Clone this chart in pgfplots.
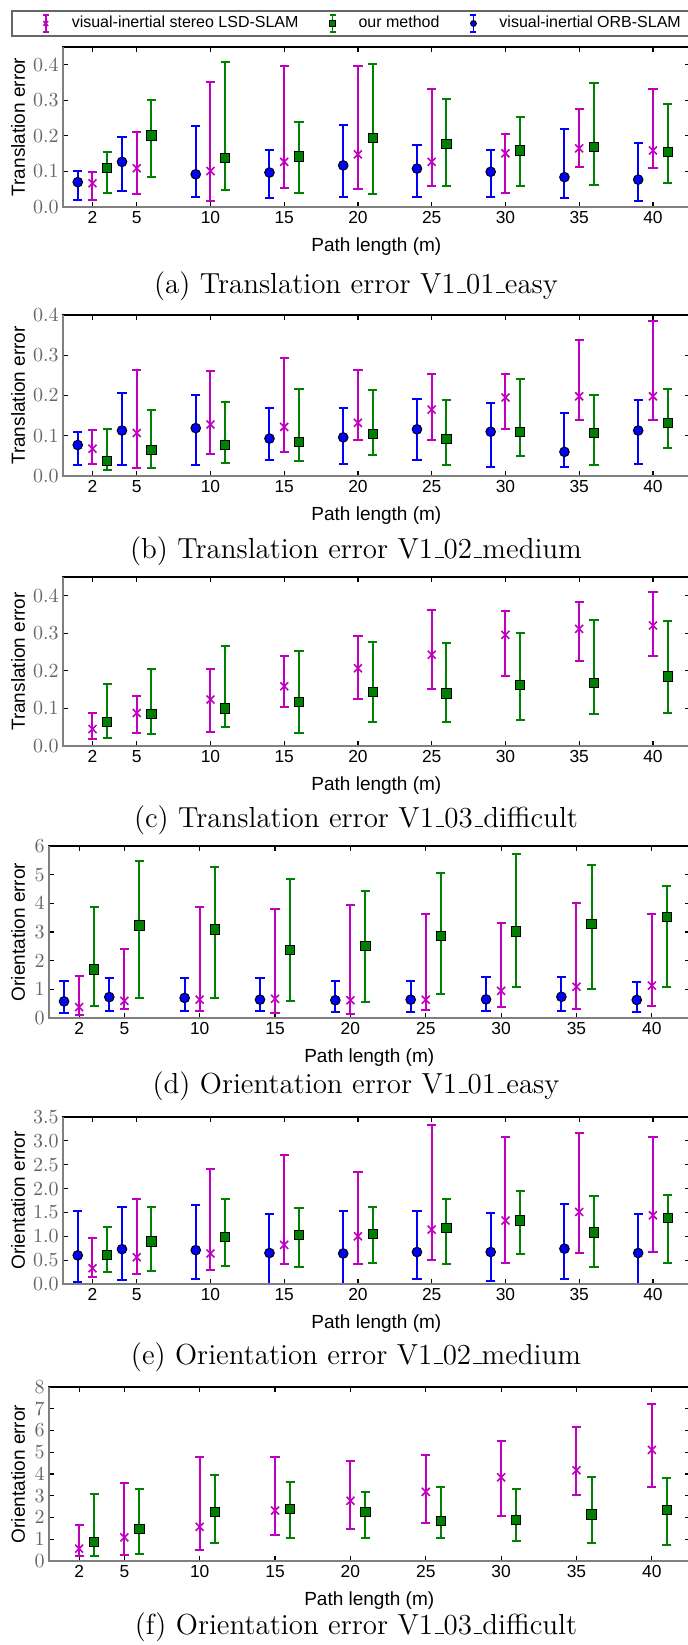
\documentclass[border=0pt]{standalone}
\usepackage{fontspec}
\usepackage{pgfplots}
\usepackage{pgfplotstable}
\pgfplotsset{compat=1.18}
\newfontfamily\hv{Liberation Sans}
\newcommand{\us}{\leavevmode\kern.06em\vbox{\hrule width.3em}}

\definecolor{lsdc}{rgb}{0.75,0,0.75}
\definecolor{ourc}{rgb}{0,0.5,0}
\definecolor{orbc}{rgb}{0,0,1}

% columns: x position, value, lower end, upper end
% (a) translation V1_01_easy
\pgfplotstableread{
x y lo hi
1 0.070 0.020 0.100
4 0.127 0.044 0.198
9 0.092 0.028 0.228
14 0.097 0.025 0.160
19 0.117 0.027 0.231
24 0.108 0.029 0.175
29 0.099 0.029 0.161
34 0.084 0.025 0.220
39 0.077 0.017 0.181
}\orbA
\pgfplotstableread{
x y lo hi
2 0.067 0.021 0.098
5 0.109 0.036 0.212
10 0.101 0.017 0.352
15 0.127 0.054 0.396
20 0.148 0.051 0.397
25 0.127 0.058 0.333
30 0.151 0.039 0.205
35 0.165 0.113 0.277
40 0.159 0.109 0.331
}\lsdA
\pgfplotstableread{
x y lo hi
3 0.110 0.038 0.156
6 0.201 0.084 0.300
11 0.138 0.048 0.407
16 0.142 0.040 0.239
21 0.193 0.037 0.403
26 0.177 0.060 0.304
31 0.159 0.060 0.252
36 0.168 0.061 0.350
41 0.155 0.067 0.291
}\ourA
% (b) translation V1_02_medium
\pgfplotstableread{
x y lo hi
1 0.077 0.027 0.109
4 0.113 0.027 0.207
9 0.119 0.027 0.202
14 0.093 0.039 0.168
19 0.096 0.031 0.169
24 0.116 0.039 0.191
29 0.110 0.023 0.182
34 0.060 0.023 0.157
39 0.113 0.031 0.190
}\orbB
\pgfplotstableread{
x y lo hi
2 0.068 0.029 0.115
5 0.107 0.021 0.263
10 0.128 0.055 0.262
15 0.122 0.060 0.293
20 0.132 0.089 0.263
25 0.165 0.090 0.254
30 0.195 0.117 0.253
35 0.198 0.140 0.337
40 0.198 0.139 0.384
}\lsdB
\pgfplotstableread{
x y lo hi
3 0.037 0.014 0.116
6 0.065 0.020 0.163
11 0.077 0.033 0.184
16 0.085 0.038 0.216
21 0.104 0.051 0.213
26 0.092 0.028 0.189
31 0.110 0.050 0.242
36 0.106 0.027 0.201
41 0.131 0.070 0.216
}\ourB
% (c) translation V1_03_difficult
\pgfplotstableread{
x y lo hi
2 0.045 0.018 0.087
5 0.088 0.035 0.133
10 0.124 0.036 0.204
15 0.159 0.104 0.239
20 0.207 0.125 0.294
25 0.243 0.151 0.361
30 0.296 0.187 0.360
35 0.312 0.227 0.383
40 0.321 0.241 0.411
}\lsdC
\pgfplotstableread{
x y lo hi
3 0.063 0.022 0.165
6 0.086 0.031 0.205
11 0.100 0.050 0.266
16 0.117 0.034 0.254
21 0.143 0.065 0.276
26 0.140 0.064 0.275
31 0.162 0.070 0.301
36 0.167 0.085 0.336
41 0.185 0.087 0.333
}\ourC
% (d) orientation V1_01_easy
\pgfplotstableread{
x y lo hi
1 0.58 0.19 1.28
4 0.73 0.23 1.40
9 0.70 0.23 1.40
14 0.64 0.23 1.40
19 0.62 0.21 1.28
24 0.64 0.21 1.29
29 0.65 0.23 1.43
34 0.74 0.26 1.43
39 0.63 0.21 1.26
}\orbD
\pgfplotstableread{
x y lo hi
2 0.38 0.12 1.47
5 0.60 0.30 2.42
10 0.64 0.26 3.87
15 0.67 0.17 3.81
20 0.62 0.14 3.94
25 0.64 0.27 3.63
30 0.95 0.38 3.33
35 1.09 0.31 4.02
40 1.13 0.43 3.64
}\lsdD
\pgfplotstableread{
x y lo hi
3 1.69 0.42 3.87
6 3.23 0.70 5.49
11 3.09 0.70 5.26
16 2.36 0.58 4.85
21 2.51 0.57 4.42
26 2.85 0.84 5.05
31 3.02 1.07 5.71
36 3.29 1.00 5.34
41 3.51 1.07 4.59
}\ourD
% (e) orientation V1_02_medium
\pgfplotstableread{
x y lo hi
1 0.60 0.05 1.54
4 0.73 0.09 1.62
9 0.71 0.10 1.65
14 0.65 0.01 1.46
19 0.64 0.01 1.54
24 0.67 0.11 1.52
29 0.67 0.07 1.49
34 0.74 0.10 1.67
39 0.65 0.00 1.47
}\orbE
\pgfplotstableread{
x y lo hi
2 0.33 0.14 0.97
5 0.56 0.22 1.78
10 0.64 0.30 2.42
15 0.82 0.41 2.70
20 1.00 0.42 2.34
25 1.14 0.51 3.34
30 1.33 0.45 3.08
35 1.51 0.64 3.17
40 1.44 0.67 3.09
}\lsdE
\pgfplotstableread{
x y lo hi
3 0.60 0.26 1.19
6 0.89 0.27 1.61
11 0.98 0.38 1.78
16 1.03 0.35 1.60
21 1.05 0.45 1.61
26 1.17 0.41 1.78
31 1.33 0.62 1.95
36 1.08 0.36 1.85
41 1.38 0.44 1.86
}\ourE
% (f) orientation V1_03_difficult
\pgfplotstableread{
x y lo hi
2 0.57 0.22 1.66
5 1.09 0.26 3.57
10 1.57 0.52 4.80
15 2.32 1.20 4.78
20 2.77 1.45 4.62
25 3.18 1.74 4.88
30 3.85 2.06 5.54
35 4.17 3.02 6.18
40 5.11 3.42 7.22
}\lsdF
\pgfplotstableread{
x y lo hi
3 0.88 0.22 3.06
6 1.49 0.32 3.32
11 2.26 0.82 3.94
16 2.38 1.08 3.63
21 2.26 1.05 3.17
26 1.85 1.05 3.42
31 1.88 0.91 3.31
36 2.14 0.85 3.86
41 2.35 0.74 3.80
}\ourF

\pgfplotsset{
  errbar/.style={only marks,
    error bars/.cd, y dir=both, y explicit,
    error bar style={line width=1pt, draw=#1},
    error mark options={rotate=90, mark size=2.3pt, line width=1pt, draw=#1}},
  lsd/.style={color=lsdc, mark=x, mark size=2.8pt, mark options={line width=0.8pt}, errbar=lsdc},
  our/.style={color=ourc, mark=square*, mark size=2.3pt, mark options={fill=ourc, draw=black, line width=0.5pt}, errbar=ourc},
  orb/.style={color=orbc, mark=*, mark size=2.4pt, mark options={fill=orbc, draw=black, line width=0.5pt}, errbar=orbc},
  panel/.style={
    scale only axis, anchor=north west,
    xmin=0, xmax=42.5, ymin=0,
    xtick={2,5,10,15,20,25,30,35,40},
    xticklabels={2,5,10,15,20,25,30,35,40},
    tick align=inside, major tick length=2.5pt,
    every tick/.style={black, line width=0.6pt},
    axis line style={line width=0.8pt},
    xticklabel style={font=\hv\fontsize{8.7}{10}\selectfont, inner sep=2pt},
    yticklabel style={text=black!60, inner sep=2pt},
    xlabel={Path length (m)},
    xlabel style={font=\hv\fontsize{9.5}{11}\selectfont, at={(axis description cs:0.5,0)}, anchor=center, yshift=-20pt},
    ylabel style={font=\hv\fontsize{9.5}{11}\selectfont, anchor=center},
    after end axis/.code={\draw[black!50, line width=0.9pt] (rel axis cs:0,1) -- (rel axis cs:0,0) -- (rel axis cs:1,0);},
  },
  wide/.style={panel, width=313.4pt,
    ylabel style={at={(axis description cs:-0.0718,0.5)}},
    y tick label style={/pgf/number format/.cd, fixed, fixed zerofill, precision=1, /tikz/.cd}},
  narrow/.style={panel, width=320.25pt,
    ylabel style={at={(axis description cs:-0.0484,0.5)}}},
}
\tikzset{capt/.style={font=\fontsize{14.5}{17}\selectfont}}
\newcommand{\ebplot}[2]{\addplot[#1] table[x=x, y=y,
  y error plus expr=\thisrow{hi}-\thisrow{y},
  y error minus expr=\thisrow{y}-\thisrow{lo}] {#2};}

\begin{document}
\begin{tikzpicture}
\useasboundingbox (0,0) rectangle (343.5pt,-822.5pt);

% (a)
\begin{axis}[wide, at={(31.5pt,-23.5pt)}, height=80pt, ymax=0.45,
  ytick={0,0.1,0.2,0.3,0.4}, ylabel={Translation error},
  legend columns=3,
  legend style={at={(axis description cs:-0.083,1.147)}, anchor=west,
    draw=black!60, line width=0.8pt, font=\hv\fontsize{8}{9.6}\selectfont,
    inner xsep=4.5pt, inner ysep=0.5pt,
    /tikz/every even column/.append style={column sep=2.5pt},
    /tikz/column 6/.append style={column sep=0pt}},
  legend image code/.code={
    \path[draw=none, fill=none] (-12.5pt,0pt) -- (11pt,0pt);
    \draw[#1, mark=none, line width=0.8pt] (0pt,-4.2pt) -- (0pt,4.2pt)
      (-1.5pt,-4.2pt) -- (1.5pt,-4.2pt) (-1.5pt,4.2pt) -- (1.5pt,4.2pt);
    \draw[#1, every mark/.append style={scale=0.6}] plot coordinates {(0pt,0pt)};
  }]
\ebplot{lsd}{\lsdA}
\addlegendentry{visual-inertial stereo LSD-SLAM}
\ebplot{our}{\ourA}
\addlegendentry{our method}
\ebplot{orb}{\orbA}
\addlegendentry{visual-inertial ORB-SLAM}
\end{axis}
\node[capt] at (178pt,-143pt) {(a) Translation error V1\us01\us easy};

% (b)
\begin{axis}[wide, at={(31.5pt,-157.5pt)}, height=80.5pt, ymax=0.4,
  ytick={0,0.1,0.2,0.3,0.4}, ylabel={Translation error}]
\ebplot{lsd}{\lsdB}
\ebplot{our}{\ourB}
\ebplot{orb}{\orbB}
\end{axis}
\node[capt] at (178pt,-275.5pt) {(b) Translation error V1\us02\us medium};

% (c)
\begin{axis}[wide, at={(31.5pt,-288.5pt)}, height=84.5pt, ymax=0.45,
  ytick={0,0.1,0.2,0.3,0.4}, ylabel={Translation error}]
\ebplot{lsd}{\lsdC}
\ebplot{our}{\ourC}
\end{axis}
\node[capt] at (178pt,-410pt) {(c) Translation error V1\us03\us difficult};

% (d)
\begin{axis}[narrow, at={(24.5pt,-423pt)}, height=86pt, ymax=6,
  ytick={0,1,2,3,4,5,6}, ylabel={Orientation error}]
\ebplot{lsd}{\lsdD}
\ebplot{our}{\ourD}
\ebplot{orb}{\orbD}
\end{axis}
\node[capt] at (178pt,-543pt) {(d) Orientation error V1\us01\us easy};

% (e)
\begin{axis}[wide, at={(31.5pt,-558.5pt)}, height=83.5pt, ymax=3.5,
  ytick={0,0.5,1,1.5,2,2.5,3,3.5}, ylabel={Orientation error}]
\ebplot{lsd}{\lsdE}
\ebplot{our}{\ourE}
\ebplot{orb}{\orbE}
\end{axis}
\node[capt] at (178pt,-678.5pt) {(e) Orientation error V1\us02\us medium};

% (f)
\begin{axis}[narrow, at={(24.5pt,-693.5pt)}, height=87pt, ymax=8,
  ytick={0,1,2,3,4,5,6,7,8}, ylabel={Orientation error}]
\ebplot{lsd}{\lsdF}
\ebplot{our}{\ourF}
\end{axis}
\node[capt] at (178pt,-813.5pt) {(f) Orientation error V1\us03\us difficult};

\end{tikzpicture}
\end{document}
